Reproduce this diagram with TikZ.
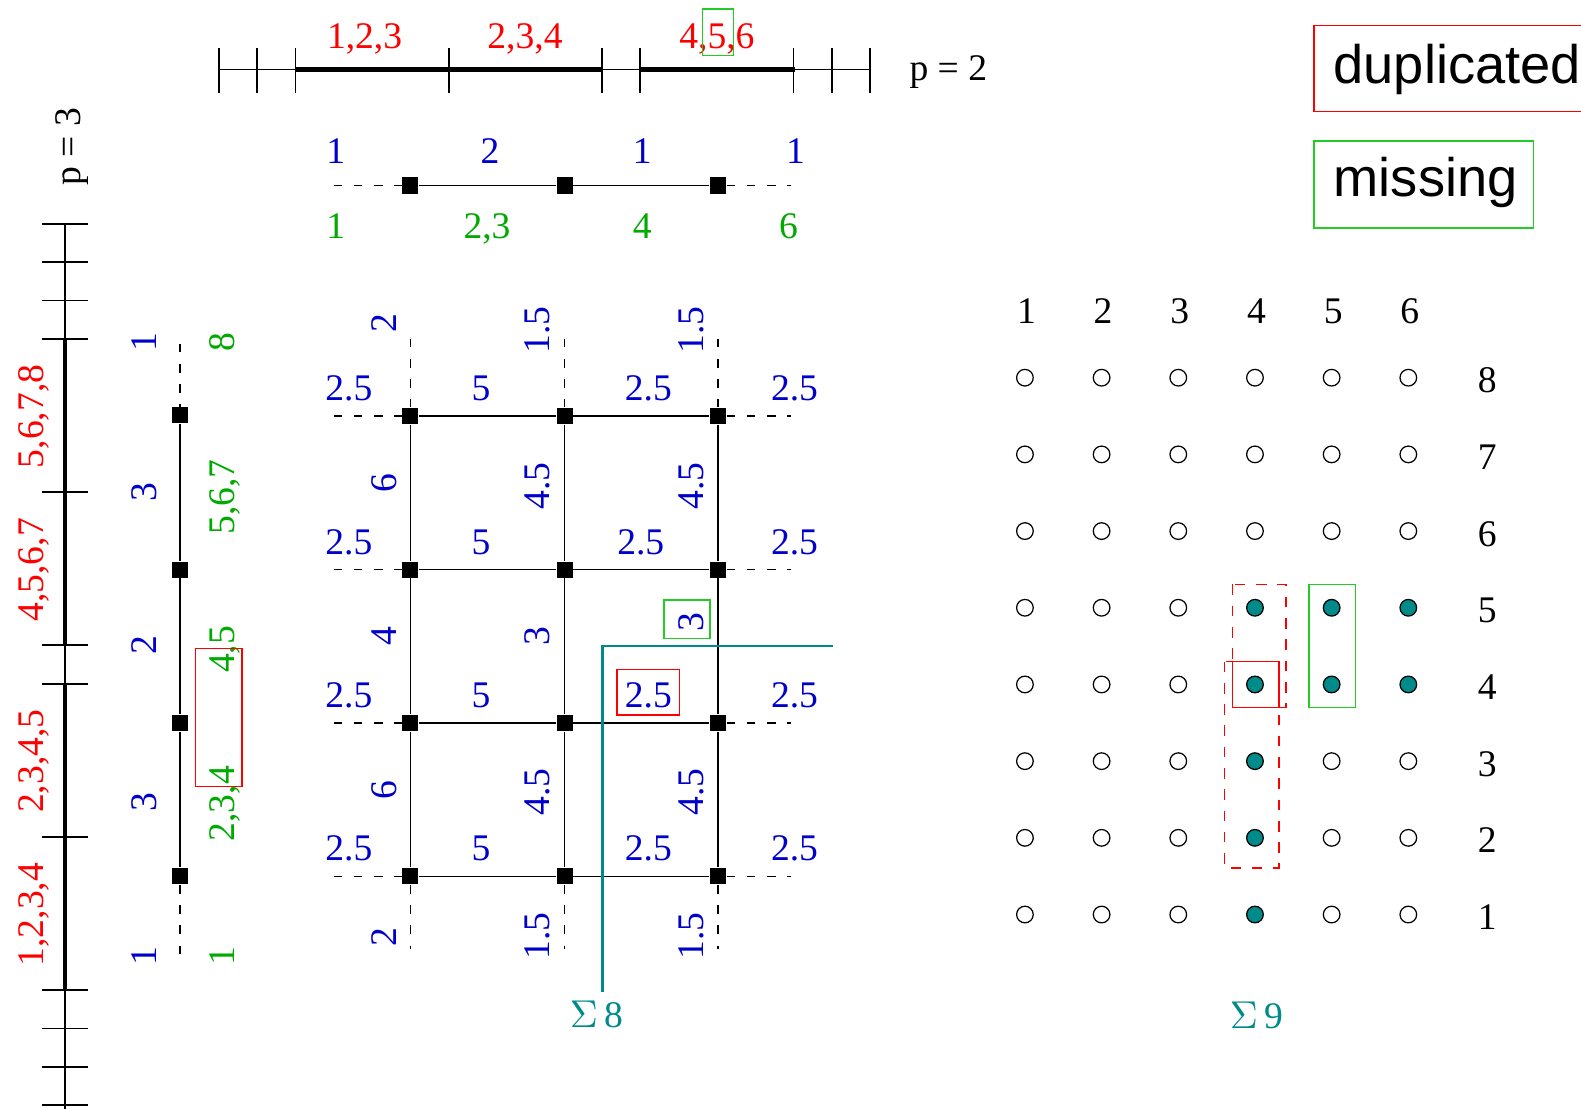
\documentclass[tikz,border=0pt]{standalone}
\usepackage{fontspec}
\setmainfont{Liberation Serif}
\newfontfamily\legendfont{Liberation Sans}
\usepackage{xcolor}
\definecolor{vizBlue}{HTML}{0000CC}
\definecolor{vizRed}{HTML}{FF0000}
\definecolor{vizGreen}{HTML}{00AA00}
\definecolor{vizLime}{HTML}{22CC22}
\definecolor{vizTeal}{HTML}{008B8B}

\begin{document}
\begin{tikzpicture}[x=0.01cm, y=-0.01cm,
  font=\fontsize{10.6}{12.7}\selectfont,
  every node/.style={inner sep=0pt},
  vtx/.style={rectangle, fill=black, minimum size=1.6mm},
  dot/.style={circle, draw, line width=0.35pt, minimum size=1.65mm},
  dotfull/.style={dot, fill=vizTeal},
  link/.style={line width=0.4pt},
  stub/.style={line width=0.4pt, dash pattern=on 2.4pt off 3.3pt},
  axisline/.style={line width=0.4pt},
  axisbold/.style={line width=1.2pt},
  tick/.style={line width=0.5pt},
  wgt/.style={text=vizBlue, anchor=base},
  nbr/.style={text=vizGreen, anchor=base},
  own/.style={text=vizRed, anchor=base},
  plain/.style={anchor=base},
  vert/.style={rotate=90},
  dupbox/.style={draw=vizRed, line width=0.4pt},
  dupdash/.style={draw=vizRed, line width=0.4pt, dash pattern=on 3pt off 3pt},
  missbox/.style={draw=vizLime, line width=0.4pt},
  cut/.style={draw=vizTeal, line width=0.7pt},
  sumlbl/.style={text=vizTeal, anchor=base}]
  \path[fill=white] (0,0) rectangle (1568,1099);
  \useasboundingbox (0,0) rectangle (1568,1099);

  % horizontal axis, p = 2
  \draw[axisline] (217,69) -- (864,69);
  \draw[axisbold] (293,69) -- (598,69);
  \draw[axisbold] (636,69) -- (788,69);
  \foreach \k in {0,1,2,6,10,11,15,16,17}
    \draw[tick] ({217+38*\k},48) -- ({217+38*\k},92);
  \node[own] (h123) at (361.6,48) {1,2,3};
  \node[own] (h234) at (520.7,48) {2,3,4};
  \node[own] (h456) at (711,48) {4,5,6};
  \draw[missbox] (696.5,9) rectangle (727.5,55);
  \node[plain] (ptwo) at (940.5,80) {p = 2};

  % vertical axis, p = 3
  \draw[axisline] (64.5,222) -- (64.5,1110);
  \draw[axisbold] (64.5,336) -- (64.5,640);
  \draw[axisbold] (64.5,678) -- (64.5,982);
  \foreach \k in {0,1,2,3,7,11,12,16,20,21,22,23}
    \draw[tick] (42,{222+38*\k}) -- (87,{222+38*\k});
  \node[own, vert] (v5678) at (43,413) {5,6,7,8};
  \node[own, vert] (v4567) at (43,565) {4,5,6,7};
  \node[own, vert] (v2345) at (43,755) {2,3,4,5};
  \node[own, vert] (v1234) at (43,907) {1,2,3,4};
  \node[plain, vert] (pthree) at (79.4,145.5) {p = 3};

  % 1D graph along x
  \node[vtx] (h1) at (407,184) {};
  \node[vtx] (h2) at (560,184) {};
  \node[vtx] (h3) at (712,184) {};
  \coordinate (hl) at (331,184);
  \coordinate (hr) at (784,184);
  \draw[stub] (hl) -- (h1);
  \draw[link] (h1) -- (h2) -- (h3);
  \draw[stub] (h3) -- (hr);
  \node[wgt] (hw0) at (333,162) {1};
  \node[wgt] (hw1) at (486,162) {2};
  \node[wgt] (hw2) at (637,162) {1};
  \node[wgt] (hw3) at (789,162) {1};
  \node[nbr] (hn0) at (333,236.5) {1};
  \node[nbr] (hn1) at (483,236.5) {2,3};
  \node[nbr] (hn2) at (637,236.5) {4};
  \node[nbr] (hn3) at (782,236.5) {6};

  % 1D graph along y
  \node[vtx] (v1) at (178.5,412) {};
  \node[vtx] (v2) at (178.5,565) {};
  \node[vtx] (v3) at (178.5,717) {};
  \node[vtx] (v4) at (178.5,869) {};
  \coordinate (vt) at (178.5,341);
  \coordinate (vb) at (178.5,946);
  \draw[stub] (vt) -- (v1);
  \draw[link] (v1) -- (v2) -- (v3) -- (v4);
  \draw[stub] (v4) -- (vb);
  \node[wgt, vert] (vw0) at (155.5,339) {1};
  \node[wgt, vert] (vw1) at (155.5,488) {3};
  \node[wgt, vert] (vw2) at (155.5,640) {2};
  \node[wgt, vert] (vw3) at (155.5,795) {3};
  \node[wgt, vert] (vw4) at (155.5,948) {1};
  \node[nbr, vert] (vn0) at (233,339) {8};
  \node[nbr, vert] (vn1) at (233,493) {5,6,7};
  \node[nbr, vert] (vn2) at (233,644) {4,5};
  \node[nbr, vert] (vn3) at (233,797) {2,3,4};
  \node[nbr, vert] (vn4) at (233,948) {1};
  \draw[dupbox] (194,643) rectangle (240,780);

  % 2D grid
  \foreach \c/\x in {1/407,2/560,3/712}
    \foreach \r/\y in {1/412.5,2/565,3/717,4/869}
      \node[vtx] (g\c\r) at (\x,\y) {};
  \foreach \r/\y in {1/412.5,2/565,3/717,4/869} {
    \coordinate (gl\r) at (331,\y);
    \coordinate (gr\r) at (784,\y);
    \draw[stub] (gl\r) -- (g1\r);
    \draw[link] (g1\r) -- (g2\r) -- (g3\r);
    \draw[stub] (g3\r) -- (gr\r);
  }
  \foreach \c/\x in {1/407,2/560,3/712} {
    \coordinate (gt\c) at (\x,336);
    \coordinate (gb\c) at (\x,941);
    \draw[stub] (gt\c) -- (g\c1);
    \draw[link] (g\c1) -- (g\c2) -- (g\c3) -- (g\c4);
    \draw[stub] (g\c4) -- (gb\c);
  }
  % weights on horizontal edges
  \foreach \r/\y in {1/397,2/549.5,3/701.5,4/853.5} {
    \node[wgt] (rw1\r) at (346,\y) {2.5};
    \node[wgt] (rw2\r) at (477,\y) {5};
    \node[wgt] (rw4\r) at (788,\y) {2.5};
  }
  \node[wgt] (rw31) at (643,397) {2.5};
  \node[wgt] (rw32) at (635.5,549.5) {2.5};
  \node[wgt] (rw33) at (643,701.5) {2.5};
  \node[wgt] (rw34) at (643,853.5) {2.5};
  \draw[dupbox] (612,664) rectangle (674,709);
  % weights on vertical edges
  \node[wgt, vert] (cw10) at (393,320.6) {2};
  \node[wgt, vert] (cw11) at (393,479) {6};
  \node[wgt, vert] (cw12) at (393,631) {4};
  \node[wgt, vert] (cw13) at (393,783.5) {6};
  \node[wgt, vert] (cw14) at (393,929) {2};
  \node[wgt, vert] (cw20) at (545,327) {1.5};
  \node[wgt, vert] (cw21) at (545,482) {4.5};
  \node[wgt, vert] (cw22) at (545,631) {3};
  \node[wgt, vert] (cw23) at (545,785.5) {4.5};
  \node[wgt, vert] (cw24) at (545,928) {1.5};
  \node[wgt, vert] (cw30) at (697.5,327) {1.5};
  \node[wgt, vert] (cw31) at (697.5,482) {4.5};
  \node[wgt, vert] (cw32) at (697.5,616.5) {3};
  \node[wgt, vert] (cw33) at (697.5,785.5) {4.5};
  \node[wgt, vert] (cw34) at (697.5,928) {1.5};
  \draw[missbox] (658.5,595) rectangle (704,633);

  % cut
  \coordinate (cutA) at (597.4,983.5);
  \coordinate (cutB) at (597.4,640.7);
  \coordinate (cutC) at (826,640.7);
  \draw[cut] (cutA) -- (cutB) -- (cutC);
  \node[sumlbl] (sum8) at (591.5,1019.5) {$\Sigma$\,8};

  % process grid
  \foreach \i in {1,...,6}
    \foreach \j in {1,...,8} {
      \pgfmathtruncatemacro\on{(\i==4 && \j<6) || (\i>4 && (\j==4 || \j==5))}
      \ifnum\on=1 \def\st{dotfull}\else\def\st{dot}\fi
      \node[\st] (d\i\j) at ({1016.5+76.05*(\i-1)},{907-76.06*(\j-1)}) {};
    }
  \foreach \i in {1,...,6}
    \node[plain] (cl\i) at ({1018+76.05*(\i-1)},320.7) {\i};
  \foreach \j in {1,...,8}
    \node[plain] (rl\j) at (1475,{922-76.06*(\j-1)}) {\j};
  \draw[dupdash] (1222.2,579.5) rectangle (1275.4,701.5);
  \draw[dupdash] (1214.2,656.2) rectangle (1268.5,861);
  \draw[dupbox] (1222.2,656.2) rectangle (1268.5,701.5);
  \draw[missbox] (1298.2,579.5) rectangle (1344.2,701.5);
  \node[sumlbl] (sum9) at (1246,1020) {$\Sigma$\,9};

  % legend
  \draw[dupbox] (1303,25) rectangle (1600,110.8);
  \node[anchor=base west, font=\legendfont\fontsize{15.3}{18}\selectfont] (dupkey) at (1322,82.6) {duplicated};
  \draw[missbox] (1303,140) rectangle (1521,226);
  \node[anchor=base west, font=\legendfont\fontsize{15.3}{18}\selectfont] (misskey) at (1322,195) {missing};
\end{tikzpicture}
\end{document}
